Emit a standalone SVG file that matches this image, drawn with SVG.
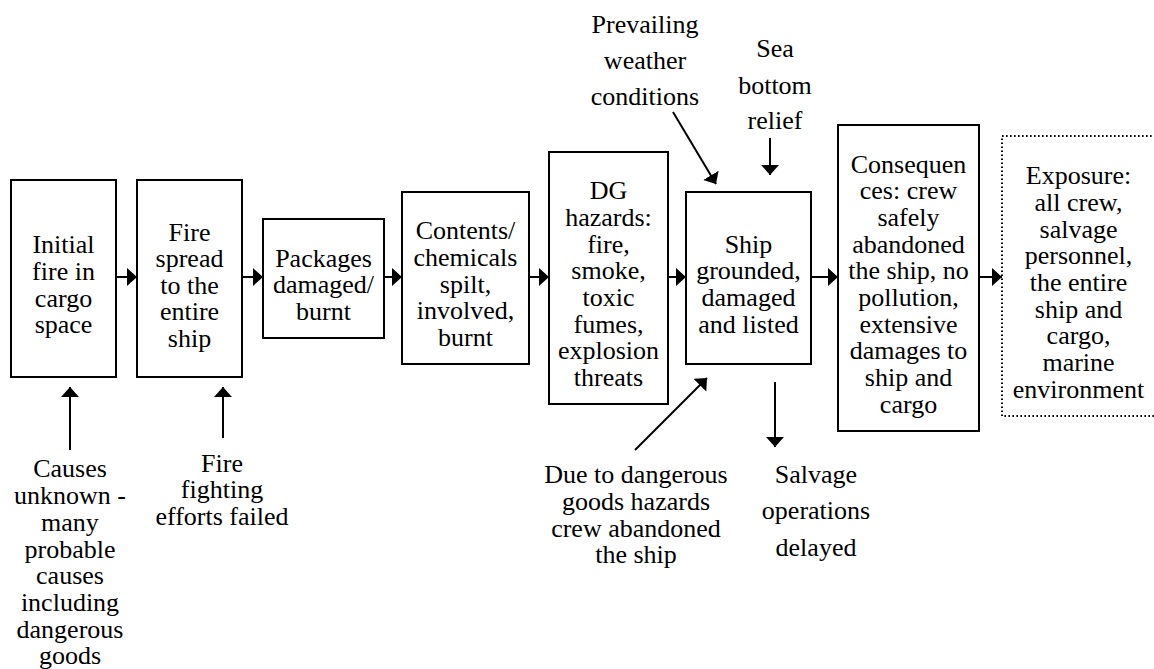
<svg xmlns="http://www.w3.org/2000/svg" width="1154" height="669" viewBox="0 0 1154 669">
<style>
.box{fill:#fff;stroke:#000;stroke-width:2}
.dot{fill:none;stroke:#000;stroke-width:2;stroke-dasharray:1.6 2.4}
text{font-family:"Times New Roman","Liberation Serif","Nimbus Roman",Tinos,serif;font-size:26px;fill:#000;text-anchor:middle}
.c{fill:none;stroke:#000;stroke-width:2}
</style>
<defs>
<marker id="ah" markerUnits="userSpaceOnUse" markerWidth="12" markerHeight="20" refX="10" refY="9" orient="auto" viewBox="0 0 12 20">
<path d="M0,0 L10,9 L0,18 z" fill="#000"/>
</marker>
</defs>
<rect width="1154" height="669" fill="#fff"/>
<g id="connectors">
<line class="c" x1="116" y1="277" x2="137" y2="277" marker-end="url(#ah)"/>
<line class="c" x1="242" y1="277" x2="263" y2="277" marker-end="url(#ah)"/>
<line class="c" x1="384" y1="277" x2="402" y2="277" marker-end="url(#ah)"/>
<line class="c" x1="529" y1="277" x2="549" y2="277" marker-end="url(#ah)"/>
<line class="c" x1="668" y1="277" x2="686" y2="277" marker-end="url(#ah)"/>
<line class="c" x1="811" y1="277" x2="838" y2="277" marker-end="url(#ah)"/>
<line class="c" x1="979" y1="277" x2="1002" y2="277" marker-end="url(#ah)"/>
<line class="c" x1="70" y1="450" x2="70" y2="387" marker-end="url(#ah)"/>
<line class="c" x1="223" y1="438" x2="223" y2="387" marker-end="url(#ah)"/>
<line class="c" x1="770" y1="138" x2="770" y2="175" marker-end="url(#ah)"/>
<line class="c" x1="775" y1="382" x2="775" y2="447" marker-end="url(#ah)"/>
<line class="c" x1="673" y1="112" x2="716" y2="184" marker-end="url(#ah)"/>
<line class="c" x1="635" y1="450" x2="707" y2="378" marker-end="url(#ah)"/>
</g>
<g id="n1">
<rect class="box" x="11" y="180" width="105" height="197"/>
<text x="63.5" y="253">Initial</text>
<text x="63.5" y="280">fire in</text>
<text x="63.5" y="306.5">cargo</text>
<text x="63.5" y="333">space</text>
</g>
<g id="n2">
<rect class="box" x="137" y="180" width="105" height="197"/>
<text x="189.5" y="240.5">Fire</text>
<text x="189.5" y="267">spread</text>
<text x="189.5" y="293.5">to the</text>
<text x="189.5" y="320">entire</text>
<text x="189.5" y="346.5">ship</text>
</g>
<g id="n3">
<rect class="box" x="263" y="219" width="121" height="119"/>
<text x="323.5" y="266.7">Packages</text>
<text x="323.5" y="293.3">damaged/</text>
<text x="323.5" y="320">burnt</text>
</g>
<g id="n4">
<rect class="box" x="402" y="192" width="127" height="172"/>
<text x="465.5" y="239.3">Contents/</text>
<text x="465.5" y="266">chemicals</text>
<text x="465.5" y="292.7">spilt,</text>
<text x="465.5" y="319.3">involved,</text>
<text x="465.5" y="346">burnt</text>
</g>
<g id="n5">
<rect class="box" x="549" y="152" width="119" height="252"/>
<text x="608.5" y="199.3">DG</text>
<text x="608.5" y="226">hazards:</text>
<text x="608.5" y="252.7">fire,</text>
<text x="608.5" y="279.3">smoke,</text>
<text x="608.5" y="306">toxic</text>
<text x="608.5" y="332.7">fumes,</text>
<text x="608.5" y="359.3">explosion</text>
<text x="608.5" y="386">threats</text>
</g>
<g id="n6">
<rect class="box" x="686" y="192" width="125" height="172"/>
<text x="748.5" y="252.7">Ship</text>
<text x="748.5" y="279.3">grounded,</text>
<text x="748.5" y="306">damaged</text>
<text x="748.5" y="332.7">and listed</text>
</g>
<g id="n7">
<rect class="box" x="838" y="125" width="141" height="306"/>
<text x="908.5" y="172.7">Consequen</text>
<text x="908.5" y="199.3">ces: crew</text>
<text x="908.5" y="226">safely</text>
<text x="908.5" y="252.7">abandoned</text>
<text x="908.5" y="279.3">the ship, no</text>
<text x="908.5" y="306">pollution,</text>
<text x="908.5" y="332.7">extensive</text>
<text x="908.5" y="359.3">damages to</text>
<text x="908.5" y="386">ship and</text>
<text x="908.5" y="412.7">cargo</text>
</g>
<g id="n8">
<rect class="dot" x="1002" y="136" width="170" height="280"/>
<text x="1078.5" y="184.3">Exposure:</text>
<text x="1078.5" y="211">all crew,</text>
<text x="1078.5" y="237.7">salvage</text>
<text x="1078.5" y="264.3">personnel,</text>
<text x="1078.5" y="291">the entire</text>
<text x="1078.5" y="317.7">ship and</text>
<text x="1078.5" y="344.3">cargo,</text>
<text x="1078.5" y="371">marine</text>
<text x="1078.5" y="397.7">environment</text>
</g>
<g id="l-prevailing">
<text x="645" y="33.3">Prevailing</text>
<text x="645" y="69.3">weather</text>
<text x="645" y="104.5">conditions</text>
</g>
<g id="l-sea">
<text x="775" y="57.3">Sea</text>
<text x="775" y="94">bottom</text>
<text x="775" y="129.3">relief</text>
</g>
<g id="l-causes">
<text x="70" y="477.3">Causes</text>
<text x="70" y="504.3">unknown -</text>
<text x="70" y="531">many</text>
<text x="70" y="557.7">probable</text>
<text x="70" y="584.3">causes</text>
<text x="70" y="611">including</text>
<text x="70" y="637.7">dangerous</text>
<text x="70" y="664.3">goods</text>
</g>
<g id="l-firefighting">
<text x="222" y="471.7">Fire</text>
<text x="222" y="498.3">fighting</text>
<text x="222" y="525">efforts failed</text>
</g>
<g id="l-due">
<text x="636" y="483.3">Due to dangerous</text>
<text x="636" y="510">goods hazards</text>
<text x="636" y="536.7">crew abandoned</text>
<text x="636" y="563.3">the ship</text>
</g>
<g id="l-salvage">
<text x="816" y="482.7">Salvage</text>
<text x="816" y="519">operations</text>
<text x="816" y="555.7">delayed</text>
</g>
</svg>
